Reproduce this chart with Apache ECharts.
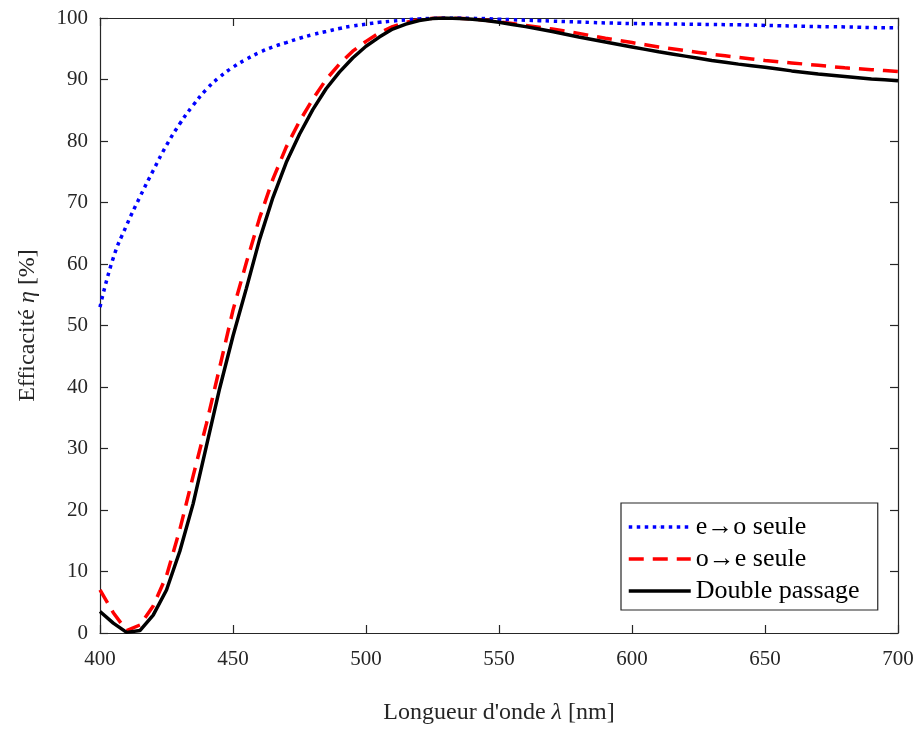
<!DOCTYPE html>
<html>
<head>
<meta charset="utf-8">
<script src="https://cdn.jsdelivr.net/npm/echarts@6/dist/echarts.min.js"></script>
<style>html,body{margin:0;padding:0;background:#fff}#c{width:922px;height:729px}</style>
</head>
<body>
<div id="c"></div>
<script>
var wavelengths = [400,405,410,415,420,425,430,435,440,445,450,455,460,465,470,475,480,485,490,495,500,505,510,515,520,525,530,535,540,545,550,555,560,565,570,575,580,585,590,595,600,605,610,615,620,625,630,635,640,645,650,655,660,665,670,675,680,685,690,695,700];
var eoSeule = [53,61.0,66.3,70.9,75.2,79.3,82.8,85.8,88.4,90.4,92.0,93.3,94.4,95.3,96.0,96.7,97.3,97.8,98.3,98.7,99.0,99.3,99.5,99.7,99.85,99.95,100,100,99.95,99.9,99.8,99.72,99.65,99.57,99.5,99.42,99.35,99.27,99.2,99.15,99.1,99.07,99.05,99.02,99.0,98.97,98.95,98.92,98.9,98.85,98.8,98.75,98.7,98.65,98.6,98.57,98.55,98.5,98.45,98.42,98.4];
var oeSeule = [7.0,3.3,0.4,1.3,4.4,9.3,16.8,25.5,34.0,43.2,52.5,60.2,67.5,73.8,79.0,83.2,86.8,90.0,92.5,94.6,96.2,97.6,98.6,99.3,99.7,99.95,100,99.95,99.85,99.65,99.4,99.1,98.8,98.5,98.2,97.85,97.5,97.1,96.7,96.35,96.0,95.65,95.3,95.0,94.7,94.4,94.1,93.85,93.6,93.35,93.1,92.9,92.7,92.5,92.3,92.1,91.9,91.75,91.6,91.45,91.3];
var doublePassage = [3.5,1.6,0.1,0.4,2.9,7.0,13.3,21.0,30.4,39.8,48.3,56.0,64.0,70.8,76.5,81.1,85.1,88.5,91.2,93.5,95.4,96.9,98.2,99.0,99.6,99.9,100,99.9,99.8,99.6,99.3,98.95,98.6,98.2,97.8,97.35,96.9,96.5,96.1,95.7,95.3,94.9,94.5,94.15,93.8,93.45,93.1,92.8,92.5,92.25,92.0,91.7,91.4,91.15,90.9,90.7,90.5,90.3,90.1,89.95,89.8];
var seriesNames = ['e\u2192o seule','o\u2192e seule','Double passage'];
var xTitle = 'Longueur d\'onde {i|\u03bb} [nm]';
var yTitle = 'Efficacit\u00e9 {i|\u03b7} [%]';

function pairs(vals){ return wavelengths.map(function(w,i){ return [w, vals[i]]; }); }

var FONT = '"Liberation Serif", "DejaVu Serif", serif';
var AX = '#262626';
var chart = echarts.init(document.getElementById('c'), null, {renderer:'canvas'});
var baseX = {
  type:'value', min:400, max:700, interval:50,
  axisLine:{show:true, onZero:false, lineStyle:{color:AX, width:1.2}},
  axisTick:{show:true, inside:true, length:8, lineStyle:{color:AX, width:1.2}},
  splitLine:{show:false}
};
var baseY = {
  type:'value', min:0, max:100, interval:10,
  axisLine:{show:true, onZero:false, lineStyle:{color:AX, width:1.2}},
  axisTick:{show:true, inside:true, length:8, lineStyle:{color:AX, width:1.2}},
  splitLine:{show:false}
};
var option = {
  animation:false,
  backgroundColor:'#fff',
  textStyle:{fontFamily:FONT},
  grid:{left:100, right:24, top:18, bottom:96, containLabel:false, outerBoundsMode:'none'},
  xAxis:[
    Object.assign({}, baseX, {
      position:'bottom',
      axisLabel:{color:'#262626', fontSize:21, fontFamily:FONT, margin:16},
      name:xTitle, nameLocation:'middle', nameGap:68,
      nameTextStyle:{color:'#262626', fontSize:24, fontFamily:FONT, rich:{i:{fontStyle:'italic', fontSize:24, fontFamily:FONT, color:'#262626'}}}
    }),
    Object.assign({}, baseX, {position:'top', axisLabel:{show:false}})
  ],
  yAxis:[
    Object.assign({}, baseY, {
      position:'left',
      axisLabel:{color:'#262626', fontSize:21, fontFamily:FONT, margin:12},
      name:yTitle, nameLocation:'middle', nameGap:60, nameRotate:90,
      nameTextStyle:{color:'#262626', fontSize:24, fontFamily:FONT, rich:{i:{fontStyle:'italic', fontSize:24, fontFamily:FONT, color:'#262626'}}}
    }),
    Object.assign({}, baseY, {position:'right', axisLabel:{show:false}})
  ],
  legend:{
    orient:'vertical', left:621, top:503,
    backgroundColor:'#fff', borderColor:'#262626', borderWidth:1.2, borderRadius:0,
    padding:[11,6,6,6], itemWidth:62, itemHeight:1, itemGap:6,
    lineStyle:{width:3.5},
    textStyle:{fontSize:26, fontFamily:FONT, color:'#000', width:176, height:24, lineHeight:24, padding:[0,0,0,0]},
    data:seriesNames
  },
  series:[
    {name:seriesNames[0], type:'line', data:pairs(eoSeule), symbol:'circle', showSymbol:false, smooth:true, z:3,
     lineStyle:{color:'#0000ff', width:3.5, type:[3.5,4.5]}, itemStyle:{color:'#0000ff'}},
    {name:seriesNames[1], type:'line', data:pairs(oeSeule), symbol:'circle', showSymbol:false, smooth:false, z:2,
     lineStyle:{color:'#ff0000', width:3.5, type:[15,9]}, itemStyle:{color:'#ff0000'}},
    {name:seriesNames[2], type:'line', data:pairs(doublePassage), symbol:'circle', showSymbol:false, smooth:false, z:4,
     lineStyle:{color:'#000000', width:3.5, type:'solid'}, itemStyle:{color:'#000000'}}
  ]
};
chart.setOption(option);
</script>
</body>
</html>
